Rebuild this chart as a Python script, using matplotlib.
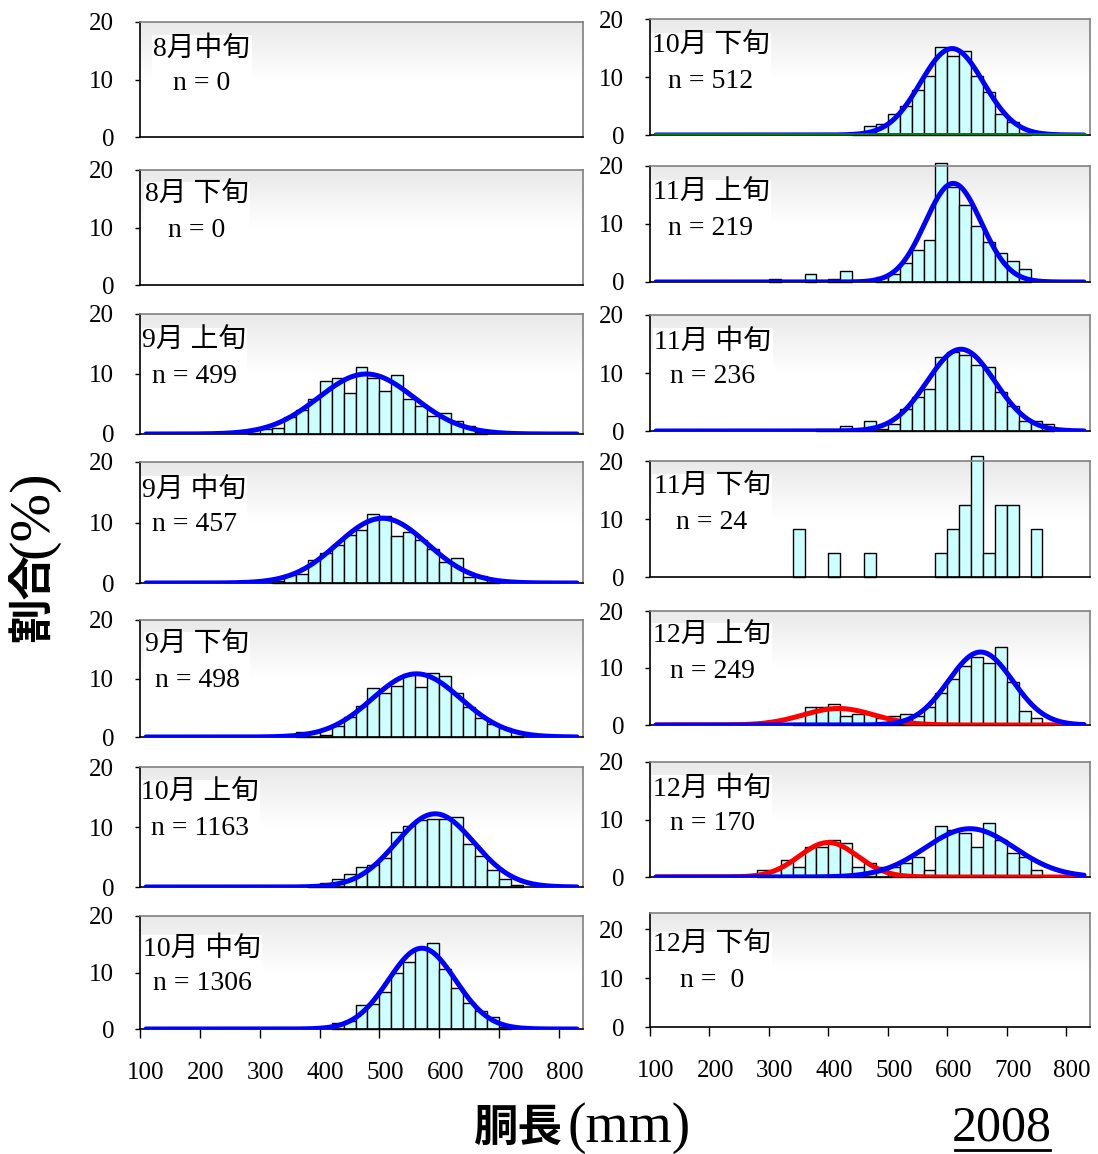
import numpy as np
import matplotlib.pyplot as plt
from matplotlib.colors import LinearSegmentedColormap
from matplotlib.lines import Line2D

plt.rcParams['font.family'] = ['Liberation Serif', 'Noto Sans CJK JP']

W, H = 1098, 1154

# ---- DATA: percent of fish per 20 mm mantle-length class ----
# each series = first class + values of consecutive classes
sep_e_start, sep_e = 280, [0.2, 0.8, 1.0, 2.9, 4.0, 5.8, 8.8, 9.4, 6.9, 11.2, 9.3, 7.2, 9.8, 5.8, 4.7, 3.0, 3.5, 2.2, 1.3, 0.3]
sep_m_start, sep_m = 320, [0.3, 1.3, 1.5, 3.8, 4.9, 6.3, 7.9, 8.8, 11.4, 11.1, 7.8, 8.4, 7.1, 5.6, 3.4, 4.2, 1.0, 1.2, 0.2]
sep_l_start, sep_l = 360, [0.8, 0.8, 0.3, 1.8, 3.5, 5.3, 8.4, 7.6, 8.7, 10.8, 8.6, 11.0, 10.5, 7.6, 5.2, 3.3, 2.2, 1.5, 0.2]
oct_e_start, oct_e = 380, [0.4, 0.6, 1.4, 2.2, 3.4, 3.7, 4.8, 9.2, 10.1, 11.1, 11.4, 11.4, 11.7, 7.1, 5.2, 2.9, 1.4, 0.3]
oct_m_start, oct_m = 420, [1.1, 1.5, 4.2, 4.4, 6.5, 10.0, 11.8, 14.3, 15.2, 10.6, 7.2, 4.6, 3.1, 2.2, 0.3]
oct_l_start, oct_l = 440, [0.2, 1.5, 1.9, 3.6, 5.0, 7.7, 10.2, 15.2, 13.7, 14.5, 10.2, 7.5, 3.6, 2.3, 0.4]
dec_e_start, dec_e = 340, [0.4, 3.2, 3.2, 3.6, 1.6, 2.0, 2.0, 1.2, 1.6, 2.0, 1.6, 3.2, 5.6, 8.0, 10.4, 12.0, 10.8, 13.7, 7.6, 2.4, 1.2, 0.4]
dec_m_start, dec_m = 280, [1.2, 1.2, 2.9, 1.8, 5.3, 5.3, 6.5, 5.9, 1.8, 2.4, 1.8, 1.8, 2.4, 3.5, 1.2, 8.8, 8.2, 7.6, 5.3, 9.4, 6.5, 4.1, 3.5, 1.2]

# sparse ones
nov_e_bins = [300, 360, 400, 420, 480, 500, 520, 540, 560, 580, 600, 620, 640, 660, 680, 700, 720]
nov_e = [0.46, 1.37, 0.46, 1.83, 0.91, 1.37, 3.20, 5.48, 7.31, 20.55, 16.44, 13.24, 9.59, 6.85, 5.02, 3.65, 2.28]
nov_m_bins = [380, 400, 420, 440, 460, 480, 500, 520, 540, 560, 580, 600, 620, 640, 660, 680, 700, 720, 740, 760]
nov_m = [0.42, 0.42, 0.85, 0.42, 1.69, 0.42, 1.27, 3.81, 5.93, 7.20, 12.71, 13.56, 13.14, 11.44, 11.02, 6.78, 4.24, 1.69, 1.69, 1.27]
nov_l_bins = [340, 400, 460, 580, 600, 620, 640, 660, 680, 700, 740]
nov_l = [8.33, 4.17, 4.17, 4.17, 8.33, 12.5, 20.83, 4.17, 12.5, 12.5, 8.33]

# normal fits: (mean, sd, peak %, colour)
fit_sep_e = [(468, 80, 10.0, 'blue')]
fit_sep_m = [(495, 75, 10.7, 'blue')]
fit_sep_l = [(552, 74, 10.8, 'blue')]
fit_oct_e = [(583, 65, 12.2, 'blue')]
fit_oct_m = [(561, 56, 14.3, 'blue')]
fit_oct_l = [(598, 53, 14.9, 'blue'), (600, 50, 0.0, 'green')]
fit_nov_e = [(600, 47, 17.0, 'blue')]
fit_nov_m = [(613, 57, 14.1, 'blue')]
fit_dec_e = [(407, 60, 2.9, 'red'), (646, 54, 12.8, 'blue')]
fit_dec_m = [(390, 49, 6.0, 'red'), (628, 75, 8.4, 'blue')]

left_titles = ['8月中旬', '8月 下旬', '9月 上旬', '9月 中旬', '9月 下旬', '10月 上旬', '10月 中旬']
left_n = ['n = 0', 'n = 0', 'n = 499', 'n = 457', 'n = 498', 'n = 1163', 'n = 1306']
right_titles = ['10月 下旬', '11月 上旬', '11月 中旬', '11月 下旬', '12月 上旬', '12月 中旬', '12月 下旬']
right_n = ['n = 512', 'n = 219', 'n = 236', 'n = 24', 'n = 249', 'n = 170', 'n =  0']

x_labels = [100, 200, 300, 400, 500, 600, 700, 800]


def consecutive(start, vals):
    return [start + 20 * i for i in range(len(vals))]


left_bars = [None, None,
             (consecutive(sep_e_start, sep_e), sep_e),
             (consecutive(sep_m_start, sep_m), sep_m),
             (consecutive(sep_l_start, sep_l), sep_l),
             (consecutive(oct_e_start, oct_e), oct_e),
             (consecutive(oct_m_start, oct_m), oct_m)]
right_bars = [(consecutive(oct_l_start, oct_l), oct_l),
              (nov_e_bins, nov_e),
              (nov_m_bins, nov_m),
              (nov_l_bins, nov_l),
              (consecutive(dec_e_start, dec_e), dec_e),
              (consecutive(dec_m_start, dec_m), dec_m),
              None]
left_fits = [[], [], fit_sep_e, fit_sep_m, fit_sep_l, fit_oct_e, fit_oct_m]
right_fits = [fit_oct_l, fit_nov_e, fit_nov_m, [], fit_dec_e, fit_dec_m, []]

# ---- LAYOUT (pixels) ----
left_x = (140, 583)
right_x = (650, 1090)
left_y = [(22, 137), (170, 285), (314, 434), (462, 583), (620, 737), (767, 887), (916, 1029)]
right_y = [(19, 135), (166, 282), (315, 431), (461, 577), (611, 725), (762, 877), (913, 1027)]
right_ymax = [20, 20, 20, 20, 20, 20, 23.3]
left_lab = [(202, 66), (197, 213), (194, 359), (194, 507), (197, 663), (200, 811), (202, 966)]
right_lab = [(711, 64), (711, 211), (713, 359), (712, 505), (712, 654), (712, 806), (712, 963)]

colors = {'blue': '#0000FF', 'red': '#FF0000', 'green': '#008000'}
bg = LinearSegmentedColormap.from_list('bg', ['#ffffff', '#ffffff', '#e9e9e9'])
xs = np.linspace(100, 820, 361)

fig = plt.figure(figsize=(W / 100, H / 100), dpi=100)


def draw_panel(xr, yr, ymax, bars, fits, title, ntext, lab, bottom):
    ax = fig.add_axes([xr[0] / W, 1 - yr[1] / H, (xr[1] - xr[0]) / W, (yr[1] - yr[0]) / H])
    ax.imshow(np.linspace(0, 1, 200).reshape(-1, 1), origin='lower', cmap=bg,
              extent=[90, 830, 0, ymax], aspect='auto', zorder=0)
    if bars is not None:
        ax.bar(bars[0], bars[1], width=20, color='#CCFFFF', edgecolor='black',
               linewidth=1.0, zorder=2, clip_on=False)
    for m, s, a, c in fits:
        ax.plot(xs, a * np.exp(-0.5 * ((xs - m) / s) ** 2), color=colors[c],
                lw=3.6, solid_capstyle='round', zorder=3)
    ax.set_xlim(90, 830)
    ax.set_ylim(0, ymax)
    for side in ['top', 'right']:
        ax.spines[side].set_color('#808080')
        ax.spines[side].set_linewidth(1.2)
    for side in ['left', 'bottom']:
        ax.spines[side].set_color('black')
        ax.spines[side].set_linewidth(1.2)
    ax.set_yticks([0, 10, 20])
    ax.tick_params(axis='y', direction='out', length=3.6, width=1, pad=15, labelsize=18)
    if bottom:
        ax.set_xticks([90, 190, 290, 390, 490, 590, 690, 790])
        ax.set_xticklabels([])
        ax.set_xticks(x_labels, minor=True)
        ax.set_xticklabels([str(v) for v in x_labels], minor=True)
        ax.tick_params(axis='x', which='major', direction='out', length=6.5, width=1)
        ax.tick_params(axis='x', which='minor', length=0, pad=24, labelsize=18)
    else:
        ax.set_xticks([])
    # label box sits under the spines so the axis line stays visible
    ax.text(lab[0] / W, 1 - lab[1] / H, title + '\n' + ntext, transform=fig.transFigure,
            ha='center', va='center', multialignment='center', fontsize=20,
            linespacing=1.5, zorder=2.4, clip_on=False,
            bbox=dict(facecolor='white', edgecolor='none', pad=1))
    return ax


for i in range(7):
    draw_panel(left_x, left_y[i], 20, left_bars[i], left_fits[i],
               left_titles[i], left_n[i], left_lab[i], i == 6)
    draw_panel(right_x, right_y[i], right_ymax[i], right_bars[i], right_fits[i],
               right_titles[i], right_n[i], right_lab[i], i == 6)

# axis titles
fig.text(563 / W, 1 - 1128 / H, '胴長', ha='right', va='center', fontsize=32,
         fontweight='bold', family='Noto Sans CJK JP')
fig.text(568 / W, 1 - 1128 / H, '(mm)', ha='left', va='center', fontsize=40,
         family='Liberation Serif')
fig.text(33 / W, 1 - 553 / H, '割合', ha='right', va='center', rotation=90,
         rotation_mode='anchor', fontsize=32, fontweight='bold', family='Noto Sans CJK JP')
fig.text(33 / W, 1 - 558 / H, '(%)', ha='left', va='center', rotation=90,
         rotation_mode='anchor', fontsize=42, family='Liberation Serif')

fig.text(1002 / W, 1 - 1128 / H, '2008', ha='center', va='center', fontsize=36,
         family='Liberation Serif')
fig.add_artist(Line2D([955 / W, 1050 / W], [1 - 1150 / H, 1 - 1150 / H], color='black', lw=2))

fig.savefig('out.png', dpi=100)
